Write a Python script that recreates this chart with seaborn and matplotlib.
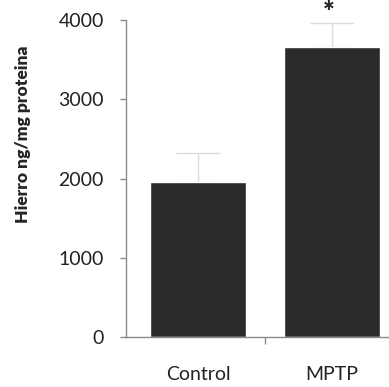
import numpy as np
import pandas as pd
import seaborn as sns
from matplotlib import pyplot as plt

groups = ['Control', 'MPTP']
hierro = [1950, 3655]
error_up = [370, 310]
ylabel = 'Hierro ng/mg proteina'

sns.set_style('white')
plt.rcParams['font.family'] = ['Lato', 'DejaVu Sans']

df = pd.DataFrame({'grupo': groups, 'hierro': hierro})

fig = plt.figure(figsize=(3.89, 3.87), dpi=100)
ax = fig.add_axes([126 / 389, 50 / 387, 263 / 389, 317 / 387])

sns.barplot(data=df, x='grupo', y='hierro', color='#2b2b2b', width=0.72,
            saturation=1, errorbar=None, ax=ax, zorder=2)
ax.errorbar(range(len(groups)), hierro, yerr=[np.zeros(len(groups)), error_up],
            fmt='none', ecolor='#dcdcdc', elinewidth=1, capsize=16, capthick=1, zorder=1)

# asterisco de significancia, parcialmente cortado arriba como en el original
ax.text(0.98, 3990, '*', ha='center', va='baseline',
        fontsize=20, fontweight='heavy', clip_on=False)

ax.set_xlim(-0.54, 1.43)
ax.set_ylim(0, 4000)
ax.set_yticks([0, 1000, 2000, 3000, 4000])
ax.set_xlabel('')
ax.set_ylabel(ylabel, fontsize=12.5, fontweight='heavy')
ax.yaxis.set_label_coords(-0.36, 0.64)

for s in ['top', 'right']:
    ax.spines[s].set_visible(False)
for s in ['left', 'bottom']:
    ax.spines[s].set_color('#8a8a8a')
    ax.spines[s].set_linewidth(1)

ax.tick_params(axis='y', direction='out', length=4, width=1, color='#8a8a8a',
               labelsize=14, labelcolor='#222222', pad=12, left=True)
ax.tick_params(axis='x', length=0, labelsize=14, labelcolor='#222222', pad=21)
ax.set_xticks([0.5], minor=True)
ax.tick_params(axis='x', which='minor', direction='out', length=5, width=1,
               color='#8a8a8a', bottom=True)

fig.savefig('out.png', dpi=100)
